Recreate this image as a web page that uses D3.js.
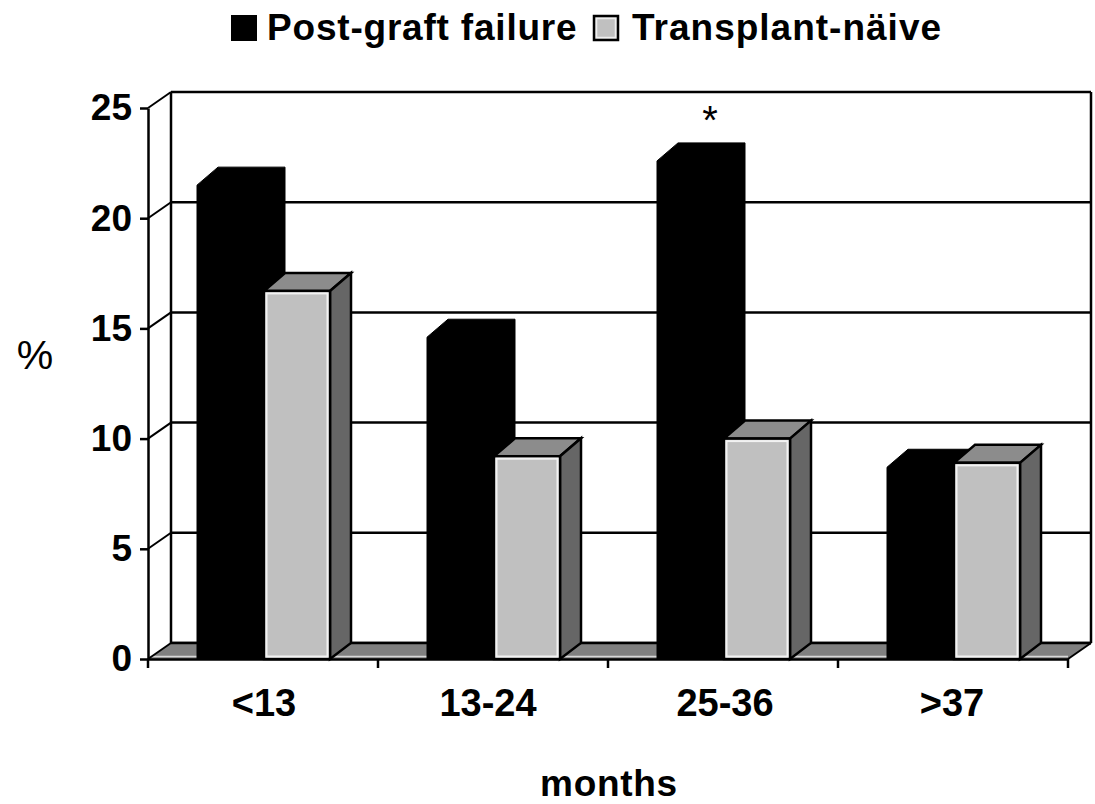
<!DOCTYPE html>
<html>
<head>
<meta charset="utf-8">
<script src="https://cdn.jsdelivr.net/npm/d3@7"></script>
<style>
  html, body { margin: 0; padding: 0; background: #fff; }
  text { font-family: "Liberation Sans", Arial, sans-serif; fill: #000; }
</style>
</head>
<body>
<div id="chart"></div>
<script>
// chart values
const categories = ['<13', '13-24', '25-36', '>37'];
const seriesNames = ['Post-graft failure', 'Transplant-näive'];
const postGraft = [21.5, 14.6, 22.6, 8.7];
const transplantNaive = [16.7, 9.2, 10, 8.9];
const yTicks = [0, 5, 10, 15, 20, 25];
const starCategory = '25-36';

const width = 1095, height = 804;
const depth = { x: 23, y: 16 };      // offset of the back wall
const barDepth = { x: 21, y: 18 };   // offset of the bar tops
const plotLeft = 148, plotRight = 1068, plotBottom = 659, plotTop = 108;
const labelNudge = [1, -5, 2, -1];   // labels are not quite centred in the original

const svg = d3.select('#chart').append('svg')
    .attr('width', width)
    .attr('height', height)
    .style('display', 'block');

const x = d3.scaleBand().domain(categories).range([plotLeft, plotRight]);
const xInner = d3.scaleBand().domain(seriesNames).range([49, 183]);
const y = d3.scaleLinear().domain([0, 25]).range([plotBottom, plotTop]);

const LINE = 2.5;

// back wall with gridlines
const wall = svg.append('g');
wall.selectAll('.grid')
    .data(yTicks)
    .enter()
    .append('line')
    .attr('x1', plotLeft + depth.x)
    .attr('x2', plotRight + depth.x)
    .attr('y1', d => y(d) - depth.y)
    .attr('y2', d => y(d) - depth.y)
    .attr('stroke', '#000')
    .attr('stroke-width', LINE);
wall.append('line')
    .attr('x1', plotLeft + depth.x).attr('x2', plotLeft + depth.x)
    .attr('y1', y(25) - depth.y).attr('y2', y(0) - depth.y)
    .attr('stroke', '#000').attr('stroke-width', LINE);
wall.append('line')
    .attr('x1', plotRight + depth.x).attr('x2', plotRight + depth.x)
    .attr('y1', y(25) - depth.y).attr('y2', y(0) - depth.y)
    .attr('stroke', '#000').attr('stroke-width', LINE);

// floor
svg.append('path')
    .attr('d', `M${plotLeft},${y(0)}L${plotLeft + depth.x},${y(0) - depth.y}L${plotRight + depth.x},${y(0) - depth.y}L${plotRight},${y(0)}Z`)
    .attr('fill', '#808080');
svg.append('line')
    .attr('x1', plotLeft + depth.x).attr('x2', plotRight + depth.x)
    .attr('y1', y(0) - depth.y).attr('y2', y(0) - depth.y)
    .attr('stroke', '#000').attr('stroke-width', LINE);
svg.append('line')
    .attr('x1', plotLeft).attr('x2', plotRight)
    .attr('y1', y(0) - 2.5).attr('y2', y(0) - 2.5)
    .attr('stroke', '#d8d8d8').attr('stroke-width', 1.5);

// diagonal ticks on the left and right walls
svg.selectAll('.diag')
    .data(yTicks)
    .enter()
    .append('line')
    .attr('x1', plotLeft).attr('x2', plotLeft + depth.x)
    .attr('y1', d => y(d)).attr('y2', d => y(d) - depth.y)
    .attr('stroke', '#000').attr('stroke-width', 2);
svg.append('line')
    .attr('x1', plotRight).attr('x2', plotRight + depth.x)
    .attr('y1', y(0)).attr('y2', y(0) - depth.y)
    .attr('stroke', '#000').attr('stroke-width', 2);

// bars, one group per category, black then grey
function blackBar(g, x0, w, v) {
    const yTop = y(v);
    g.append('path')
        .attr('d', `M${x0},${plotBottom}V${yTop}L${x0 + barDepth.x},${yTop - barDepth.y}H${x0 + w + barDepth.x}V${plotBottom - depth.y}L${x0 + w},${plotBottom}Z`)
        .attr('fill', '#000')
        .attr('stroke', '#000');
}

function greyBar(g, x0, w, v) {
    const yTop = y(v);
    // top face
    g.append('path')
        .attr('d', `M${x0},${yTop}L${x0 + barDepth.x},${yTop - barDepth.y}H${x0 + w + barDepth.x}L${x0 + w},${yTop}Z`)
        .attr('fill', '#8c8c8c')
        .attr('stroke', '#000')
        .attr('stroke-width', LINE);
    // side face
    g.append('path')
        .attr('d', `M${x0 + w},${yTop}L${x0 + w + barDepth.x},${yTop - barDepth.y}V${plotBottom - depth.y}L${x0 + w},${plotBottom}Z`)
        .attr('fill', '#666')
        .attr('stroke', '#000')
        .attr('stroke-width', LINE);
    // front face
    g.append('rect')
        .attr('x', x0)
        .attr('y', yTop)
        .attr('width', w)
        .attr('height', plotBottom - yTop)
        .attr('fill', '#c0c0c0')
        .attr('stroke', '#000')
        .attr('stroke-width', LINE);
    g.append('rect')
        .attr('x', x0 + 2.5)
        .attr('y', yTop + 2.5)
        .attr('width', w - 5)
        .attr('height', plotBottom - yTop - 5)
        .attr('fill', 'none')
        .attr('stroke', '#f2f2f2')
        .attr('stroke-width', 2);
}

categories.forEach((c, i) => {
    const g = svg.append('g');
    blackBar(g, x(c) + xInner(seriesNames[0]), xInner.bandwidth(), postGraft[i]);
    greyBar(g, x(c) + xInner(seriesNames[1]), xInner.bandwidth() - 1, transplantNaive[i]);
});

// front axes
const yAxis = svg.append('g')
    .attr('transform', `translate(${plotLeft},0)`)
    .call(d3.axisLeft(y).tickValues(yTicks).tickSize(8).tickPadding(8).tickSizeOuter(0));
yAxis.selectAll('path, line').attr('stroke', '#000').attr('stroke-width', LINE);
yAxis.selectAll('text')
    .attr('font-size', 37)
    .attr('font-weight', 'bold')
    .attr('font-family', '"Liberation Sans", Arial, sans-serif');

const xAxis = svg.append('g')
    .attr('transform', `translate(0,${plotBottom})`)
    .call(d3.axisBottom(x).tickValues([]).tickSizeOuter(0));
xAxis.select('path').attr('stroke', '#000').attr('stroke-width', LINE);

svg.selectAll('.xtick')
    .data(d3.range(categories.length + 1))
    .enter()
    .append('line')
    .attr('x1', d => plotLeft + d * x.bandwidth())
    .attr('x2', d => plotLeft + d * x.bandwidth())
    .attr('y1', plotBottom)
    .attr('y2', plotBottom + 9)
    .attr('stroke', '#000')
    .attr('stroke-width', LINE);

svg.selectAll('.xlabel')
    .data(categories)
    .enter()
    .append('text')
    .attr('x', (d, i) => x(d) + x.bandwidth() / 2 + labelNudge[i])
    .attr('y', 716)
    .attr('text-anchor', 'middle')
    .attr('font-size', 38)
    .attr('font-weight', 'bold')
    .text(d => d);

// significance star
svg.append('text')
    .attr('x', x(starCategory) + xInner(seriesNames[0]) + 53)
    .attr('y', 134)
    .attr('text-anchor', 'middle')
    .attr('font-size', 40)
    .text('*');

// axis titles
svg.append('text')
    .attr('x', 35).attr('y', 369)
    .attr('text-anchor', 'middle')
    .attr('font-size', 41)
    .text('%');
svg.append('text')
    .attr('x', 609).attr('y', 796)
    .attr('text-anchor', 'middle')
    .attr('font-size', 37)
    .attr('letter-spacing', 0.7)
    .attr('font-weight', 'bold')
    .text('months');

// legend
svg.append('rect')
    .attr('x', 231).attr('y', 15).attr('width', 26).attr('height', 26)
    .attr('fill', '#000');
svg.append('text')
    .attr('x', 267).attr('y', 40)
    .attr('font-size', 37)
    .attr('font-weight', 'bold')
    .attr('letter-spacing', 0.8)
    .text(seriesNames[0]);
svg.append('rect')
    .attr('x', 594).attr('y', 16).attr('width', 24).attr('height', 24)
    .attr('fill', '#c0c0c0')
    .attr('stroke', '#000')
    .attr('stroke-width', LINE);
svg.append('rect')
    .attr('x', 596.5).attr('y', 18.5).attr('width', 19).attr('height', 19)
    .attr('fill', 'none')
    .attr('stroke', '#eee')
    .attr('stroke-width', 1.5);
svg.append('text')
    .attr('x', 632).attr('y', 40)
    .attr('font-size', 37)
    .attr('font-weight', 'bold')
    .attr('letter-spacing', 1)
    .text(seriesNames[1]);
</script>
</body>
</html>
